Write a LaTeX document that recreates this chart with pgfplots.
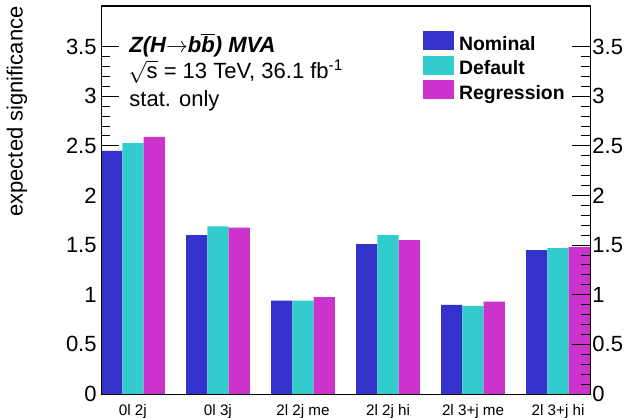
\documentclass[border=0pt]{standalone}
\usepackage{pgfplots}
\pgfplotsset{compat=1.18}
\usepackage{fontspec}
\setmainfont{Liberation Sans}
\definecolor{cNom}{HTML}{3333CC}
\definecolor{cDef}{HTML}{33CCCC}
\definecolor{cReg}{HTML}{CC33CC}
\begin{document}
\begin{tikzpicture}
\pgfplotsset{
  common/.style={
    at={(0,0)}, anchor=south west, scale only axis,
    width=244.5pt, height=194pt,
    xmin=0, xmax=23, ymin=0, ymax=3.91,
    ytick={0,0.5,1,1.5,2,2.5,3,3.5},
    minor y tick num=4,
    tick align=inside,
    major tick length=9pt, minor tick length=4.5pt,
    every tick/.style={black, line width=0.5pt},
    axis line style={line width=0.5pt},
    /pgf/number format/assume math mode=true,
    yticklabel style={font=\fontsize{11}{13}\selectfont},
  }
}
\begin{axis}[common,
  ybar, bar width=1,
  xtick={1.5,5.5,9.5,13.5,17.5,21.5},
  xticklabels={0l 2j, 0l 3j, 2l 2j me, 2l 2j hi, 2l 3+j me, 2l 3+j hi},
  xtick pos=bottom, major x tick style={draw=none},
  xticklabel style={font=\fontsize{7.6}{9}\selectfont, anchor=base, inner sep=0pt},
  xticklabel shift=1.5pt,
  ytick pos=left,
  yticklabel style={inner xsep=2pt},
  legend style={at={(0.6585,0.935)}, anchor=north west, draw=none, fill=none,
    inner sep=0pt, outer sep=0pt, row sep=0.8pt, column sep=2.5pt,
    font=\bfseries\fontsize{9.7}{11}\selectfont,
    nodes={inner sep=0pt, text height=7pt, text depth=2pt}},
  legend cell align=left,
]
\addplot[fill=cNom, draw=none, bar shift=0pt,
  legend image code/.code={\fill[cNom] (0pt,-2.5pt) rectangle (15.5pt,7pt);}]
  coordinates {(0.5,2.45) (4.5,1.60) (8.5,0.94) (12.5,1.51) (16.5,0.897) (20.5,1.449)};
\addlegendentry{Nominal}
\addplot[fill=cDef, draw=none, bar shift=0pt,
  legend image code/.code={\fill[cDef] (0pt,-2.5pt) rectangle (15.5pt,7pt);}]
  coordinates {(1.5,2.527) (5.5,1.69) (9.5,0.94) (13.5,1.60) (17.5,0.887) (21.5,1.469)};
\addlegendentry{Default}
\addplot[fill=cReg, draw=none, bar shift=0pt,
  legend image code/.code={\fill[cReg] (0pt,-2.5pt) rectangle (15.5pt,7pt);}]
  coordinates {(2.5,2.59) (6.5,1.676) (10.5,0.975) (14.5,1.55) (18.5,0.93) (22.5,1.479)};
\addlegendentry{Regression}
\node[anchor=base west, inner sep=0pt, font=\bfseries\itshape\fontsize{11}{13}\selectfont]
  at (rel axis cs:0.0573,0.879) {Z(H$\rightarrow$b$\overline{\hbox{b}}$) MVA};
\node[anchor=base west, inner sep=0pt, font=\fontsize{11}{13}\selectfont]
  at (rel axis cs:0.0553,0.812) {$\sqrt{\hbox{s}}$ = 13 TeV, 36.1 fb\textsuperscript{-1}};
\node[anchor=base west, inner sep=0pt, font=\fontsize{11}{13}\selectfont]
  at (rel axis cs:0.0573,0.742) {stat. only};
\end{axis}
\begin{axis}[common,
  xtick=\empty, minor xtick={1,...,22}, xtick pos=top,
  ytick pos=right, yticklabel pos=right,
  yticklabel style={inner xsep=1pt},
]
\end{axis}
\node[rotate=90, anchor=east, inner sep=0pt, font=\fontsize{11}{13}\selectfont]
  at (-42pt,194pt) {expected significance};
\pgfresetboundingbox
\path (-50.5pt,-11.5pt) rectangle (262pt,197pt);
\end{tikzpicture}
\end{document}
